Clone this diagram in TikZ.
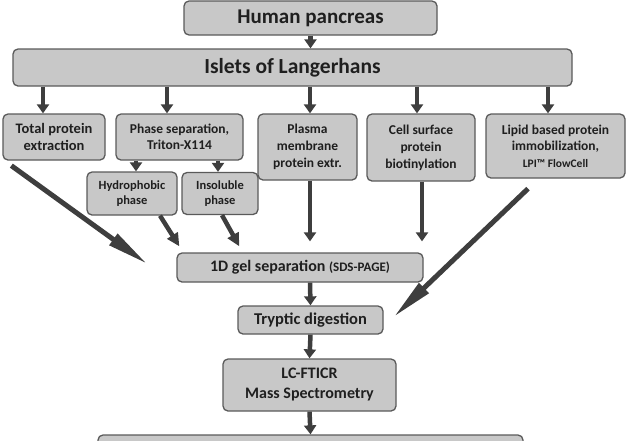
\documentclass[tikz,border=0pt]{standalone}
\usepackage{fontspec}
\setmainfont{Carlito}
\usetikzlibrary{arrows.meta,positioning}
\definecolor{boxfill}{HTML}{C8C8C8}
\definecolor{boxline}{HTML}{5A5A5A}
\definecolor{arrcol}{HTML}{3E3E3E}

\begin{document}
\begin{tikzpicture}[x=1pt,y=-1pt, box/.style={draw=boxline,fill=boxfill,line width=1.3pt,rounded corners=5pt,align=center,inner sep=2pt,text=black!88,font=\bfseries\fontsize{14}{16.5}\selectfont}, arr/.style={draw=arrcol,line width=4.5pt,-{Triangle[length=9pt,width=12pt]}}, bigarr/.style={draw=arrcol,line width=5pt,-{Triangle[length=42pt,width=13pt]}}]
\clip (0,0) rectangle (629,440);
\node[box,minimum width=253pt,minimum height=34pt,font=\bfseries\fontsize{21}{23}\selectfont] (hp) at (310.5,18) {Human pancreas};
\node[box,minimum width=559pt,minimum height=37pt,font=\bfseries\fontsize{21.5}{23}\selectfont] (isl) at (292.5,67.5) {Islets of Langerhans};
\node[box,minimum width=102pt,minimum height=46pt,font=\bfseries\fontsize{14.5}{17}\selectfont] (tot) at (54,137) {Total protein\\ extraction};
\node[box,minimum width=127pt,minimum height=46pt,font=\bfseries\fontsize{13.5}{16}\selectfont] (phs) at (179.5,137) {Phase separation,\\ Triton-X114};
\node[box,minimum width=99pt,minimum height=66pt,font=\bfseries\fontsize{13.5}{17}\selectfont] (pm) at (307.5,147) {Plasma\\ membrane\\ protein extr.};
\node[box,minimum width=108pt,minimum height=67pt,font=\bfseries\fontsize{13.5}{17}\selectfont] (cs) at (421,147.5) {Cell surface\\ protein\\ biotinylation};
\node[box,minimum width=139pt,minimum height=64pt,font=\bfseries\fontsize{13.5}{16.5}\selectfont] (lip) at (555.5,146) {Lipid based protein\\ immobilization,\\ {\fontsize{11.5}{13}\selectfont LPI\texttrademark\ FlowCell}};
\node[box,minimum width=90pt,minimum height=43pt,font=\bfseries\fontsize{12.5}{15.5}\selectfont] (hyd) at (132,193.5) {Hydrophobic\\ phase};
\node[box,minimum width=76pt,minimum height=42pt,font=\bfseries\fontsize{12.5}{15.5}\selectfont] (ins) at (220,193.5) {Insoluble\\ phase};
\node[box,minimum width=246pt,minimum height=29pt,font=\bfseries\fontsize{16}{18}\selectfont] (gel) at (300,267.5) {1D gel separation {\fontsize{13}{15}\selectfont(SDS-PAGE)}};
\node[box,minimum width=145pt,minimum height=28pt,font=\bfseries\fontsize{16.5}{18}\selectfont] (tryp) at (310.5,320) {Tryptic digestion};
\node[box,minimum width=173pt,minimum height=52pt,font=\bfseries\fontsize{16}{20}\selectfont] (ms) at (309.5,385) {LC-FTICR\\ Mass Spectrometry};
\node[box,minimum width=425pt,minimum height=40pt] (res) at (310.5,455) {};
% top of the flow
\draw[arr] (hp.south) -- (hp.south |- isl.north);
\draw[arr] ([xshift=-11pt]tot.north |- isl.south) -- ([xshift=-11pt]tot.north);
\draw[arr] ([xshift=-12.5pt]phs.north |- isl.south) -- ([xshift=-12.5pt]phs.north);
\draw[arr] ([xshift=2.5pt]pm.north |- isl.south) -- ([xshift=2.5pt]pm.north);
\draw[arr] ([xshift=-4pt]cs.north |- isl.south) -- ([xshift=-4pt]cs.north);
\draw[arr] ([xshift=-7.5pt]lip.north |- isl.south) -- ([xshift=-7.5pt]lip.north);
\draw[arr] ([xshift=4pt]hyd.north |- phs.south) -- ([xshift=4pt]hyd.north);
\draw[arr] ([xshift=-2pt]ins.north |- phs.south) -- ([xshift=-2pt]ins.north);
% into the gel
\draw[bigarr] ([shift={(9,5)}]tot.south west) -- ([shift={(-29,-3.5)}]gel.west);
\draw[arr,-{Triangle[length=13pt,width=12pt]}] ([xshift=28pt]hyd.south) -- ([shift={(3,-6)}]gel.north west);
\draw[arr,-{Triangle[length=13pt,width=12pt]}] ([xshift=2pt]ins.south) -- ([shift={(63,-6)}]gel.north west);
\draw[arr,shorten >=11pt] ([xshift=2.5pt]pm.south) -- ([xshift=2.5pt]pm.south |- gel.north);
\draw[arr,shorten >=11pt] ([xshift=1pt]cs.south) -- ([xshift=1pt]cs.south |- gel.north);
\draw[bigarr] ([shift={(-27.5,10)}]lip.south) -- ([shift={(10,-3)}]tryp.east);
% down to the mass spec
\draw[arr] ([xshift=10pt]gel.south) -- (tryp.north);
\draw[arr] (tryp.south) -- (ms.north);
\draw[arr] (ms.south) -- (res.north);
\end{tikzpicture}
\end{document}
